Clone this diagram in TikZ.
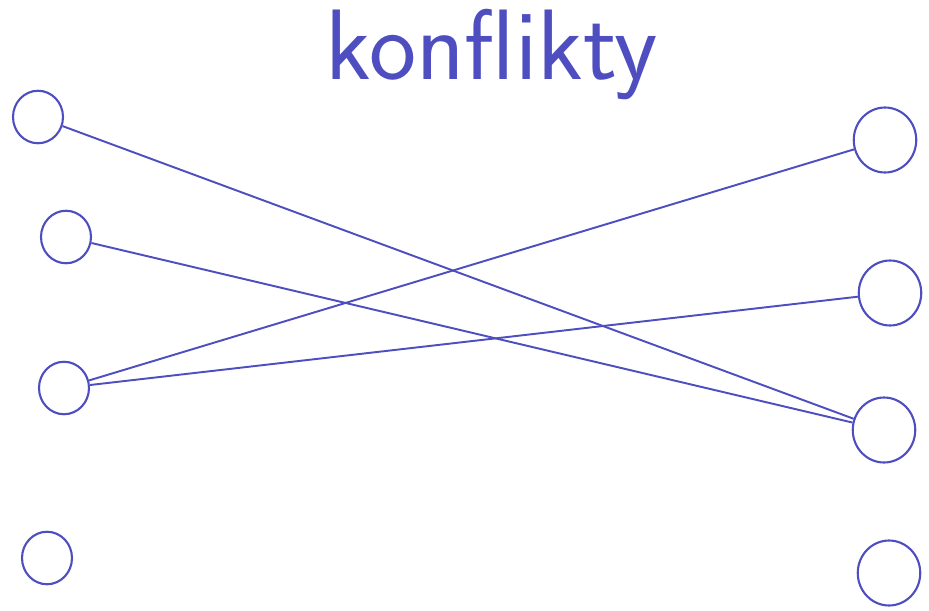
\documentclass[tikz,border=0pt]{standalone}
\usepackage{tikz}
\usetikzlibrary{shapes.geometric}
\definecolor{penblue}{RGB}{78,78,192}

\begin{document}
\begin{tikzpicture}[x=0.02cm,y=-0.02cm,
vertex/.style={draw=penblue,line width=1.2pt,ellipse,minimum width=1.0cm,minimum height=1.05cm,inner sep=0pt},
bigvertex/.style={vertex,minimum width=1.25cm,minimum height=1.3cm},
edge/.style={draw=penblue,line width=1.1pt},]
\useasboundingbox (0,0) rectangle (929,611);
\node[text=penblue,anchor=base,font=\sffamily\fontsize{57}{66}\selectfont] (title) at (492,80) {konflikty};

\node[vertex] (l1) at (38,117) {};
\node[vertex] (l2) at (66,237) {};
\node[vertex] (l3) at (64,388) {};
\node[vertex] (l4) at (47,558) {};

\node[bigvertex] (r1) at (885,140) {};
\node[bigvertex] (r2) at (890,293) {};
\node[bigvertex] (r3) at (884,430) {};
\node[bigvertex] (r4) at (889,573) {};

\draw[edge] (l1) -- (r3);
\draw[edge] (l2) -- (r3);
\draw[edge] (l3) -- (r1);
\draw[edge] (l3) -- (r2);
 \end{tikzpicture}
\end{document}
